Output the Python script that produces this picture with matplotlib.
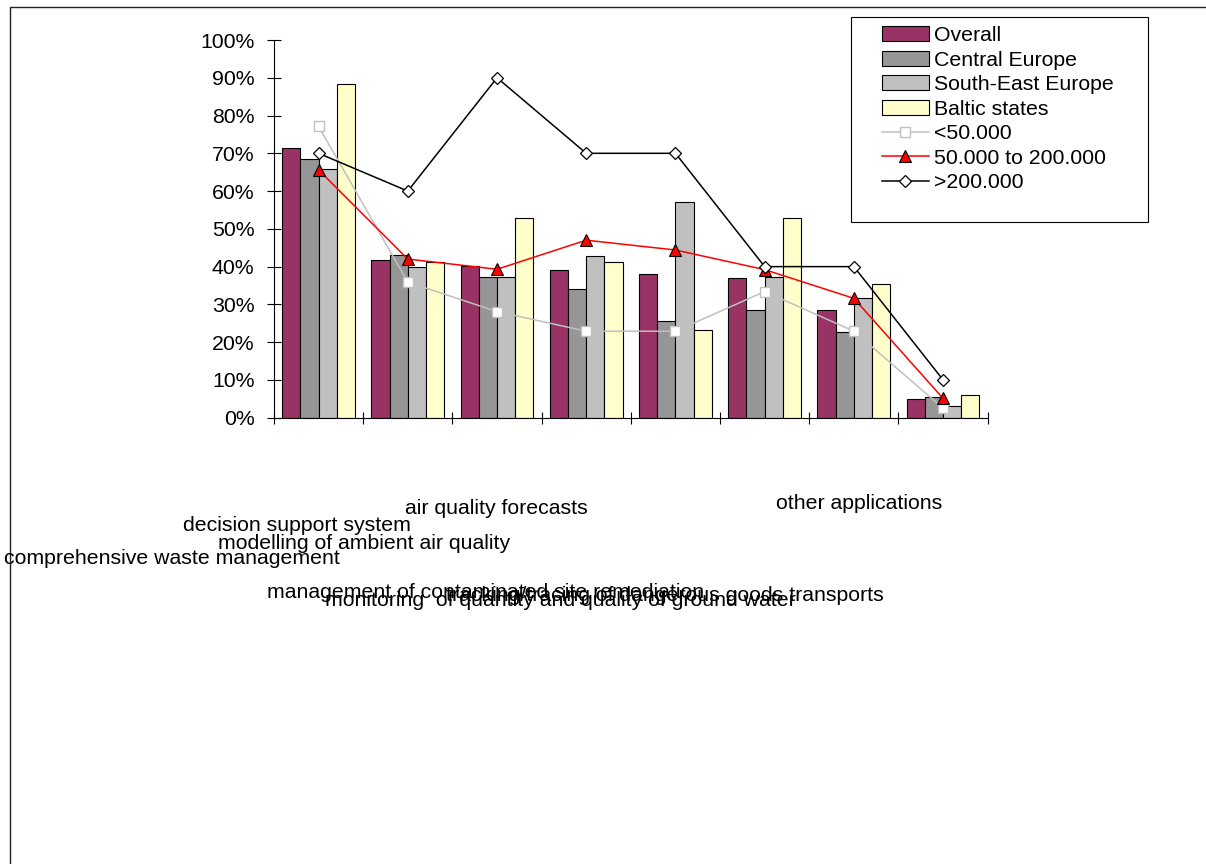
import numpy as np
import matplotlib
matplotlib.use("Agg")
import matplotlib.pyplot as plt
from matplotlib.patches import Rectangle

plt.rcParams['font.family'] = ['Liberation Sans', 'DejaVu Sans']

# --- data (share of respondents per application, %) ---
categories = [
    "comprehensive waste management",
    "decision support system",
    "modelling of ambient air quality",
    "air quality forecasts",
    "management of contaminated site remediation",
    "monitoring  of quantity and quality of ground water",
    "tracking/tracing of dangerous goods transports",
    "other applications",
]
overall = [71.5, 41.7, 40.2, 39.0, 38.1, 36.9, 28.6, 4.9]
central_europe = [68.5, 43.0, 37.2, 34.2, 25.6, 28.6, 22.8, 5.6]
south_east_europe = [65.8, 39.8, 37.2, 42.9, 57.2, 37.2, 31.6, 3.0]
baltic_states = [88.4, 41.2, 52.8, 41.2, 23.3, 52.8, 35.5, 6.0]
below_50k = [77.1, 35.9, 28.1, 22.9, 22.9, 33.4, 22.9, 2.5]
from_50k_to_200k = [65.6, 42.0, 39.3, 47.0, 44.4, 39.2, 31.6, 5.1]
above_200k = [70, 60, 90, 70, 70, 40, 40, 10]

yticks = list(range(0, 101, 10))
ytick_labels = [f"{v}%" for v in yticks]

# --- figure ---
W, H = 1206, 864
fig = plt.figure(figsize=(W / 100, H / 100), dpi=100)
FS = 15.3

def fx(px):
    return px / W

def fy(py):
    return 1 - py / H

ax = fig.add_axes([fx(274), fy(417.7), fx(987.7) - fx(274), fy(40) - fy(417.7)])

x = np.arange(len(categories))
w = 0.204
bar_series = [
    ("Overall", overall, "#993366"),
    ("Central Europe", central_europe, "#969696"),
    ("South-East Europe", south_east_europe, "#C0C0C0"),
    ("Baltic states", baltic_states, "#FFFFCC"),
]
handles = []
for i, (name, vals, col) in enumerate(bar_series):
    b = ax.bar(x + (i - 1.5) * w, vals, width=w, color=col,
               edgecolor="black", linewidth=0.8, label=name)
    handles.append(b)

l1, = ax.plot(x, below_50k, color="#C0C0C0", lw=1.1, marker="s", ms=7.5,
              mfc="white", mec="#C0C0C0", mew=1.0, label="<50.000")
l2, = ax.plot(x, from_50k_to_200k, color="red", lw=1.1, marker="^", ms=8.5,
              mfc="red", mec="black", mew=0.8, label="50.000 to 200.000")
l3, = ax.plot(x, above_200k, color="black", lw=1.1, marker="D", ms=6.5,
              mfc="white", mec="black", mew=0.9, label=">200.000")
handles += [l1, l2, l3]

ax.set_xlim(-0.5, len(categories) - 0.5)
ax.set_ylim(0, 100)
ax.set_yticks(yticks)
ax.set_yticklabels(ytick_labels, fontsize=FS)
ax.set_xticks(np.arange(len(categories) + 1) - 0.5)
ax.set_xticklabels([])
ax.tick_params(axis="y", direction="inout", length=10, width=0.8, pad=9)
ax.tick_params(axis="x", direction="inout", length=9, width=0.8)
for s in ("top", "right"):
    ax.spines[s].set_visible(False)
for s in ("left", "bottom"):
    ax.spines[s].set_linewidth(0.8)
ax.set_facecolor("none")

# category labels, staggered below the plot
label_pos = [
    (4, 564, "left"),
    (183, 531, "left"),
    (218, 549, "left"),
    (405, 514, "left"),
    (267, 598, "left"),
    (325, 606, "left"),
    (884, 601, "right"),
    (776, 509, "left"),
]
for name, (px, py, ha) in zip(categories, label_pos):
    fig.text(fx(px), fy(py), name, fontsize=FS, ha=ha, va="baseline")

# legend
fig.add_artist(Rectangle((fx(851), fy(222)), fx(1148) - fx(851), fy(17) - fy(222),
                         transform=fig.transFigure, fill=False,
                         edgecolor="black", linewidth=0.8))
leg = ax.legend(handles=handles, loc="upper left",
                bbox_to_anchor=(fx(882), fy(26)), bbox_transform=fig.transFigure,
                frameon=False, fontsize=FS, borderpad=0, labelspacing=0.26,
                handlelength=2.2, handletextpad=0.25, handleheight=0.7,
                borderaxespad=0)

# outer chart border
fig.add_artist(Rectangle((fx(10), -0.05), 1.2, fy(7) + 0.05,
                         transform=fig.transFigure, fill=False,
                         edgecolor="#222222", linewidth=1.0))

fig.savefig("out.png", dpi=100)
